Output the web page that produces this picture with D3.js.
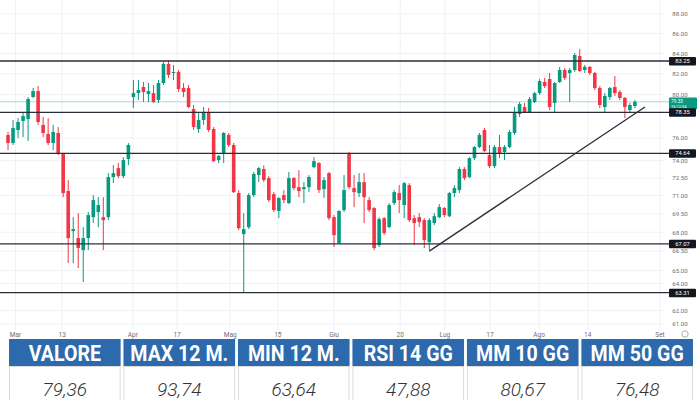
<!DOCTYPE html>
<html><head><meta charset="utf-8">
<script src="https://cdn.jsdelivr.net/npm/d3@7"></script>
<style>html,body{margin:0;padding:0;background:#fff;}svg{display:block;}</style>
</head><body><svg id="c" width="700" height="400"></svg>
<script>
const opens  = [76.28,75.56,76.73,77.55,77.73,79.78,80.34,77.19,76.37,75.56,76.46,74.58,71.39,68.09,67.53,66.58,67.53,69.22,69.64,69.22,69.22,72.58,73.35,72.66,74.14,
79.78,80.15,80.73,80.06,80.15,79.50,81.11,82.96,82.08,82.18,80.63,80.63,78.65,76.82,77.64,78.37,76.82,74.05,74.58,76.28,75.38,71.22,67.85,68.41,71.05,
72.75,73.27,72.49,71.13,69.72,71.05,70.38,72.49,71.72,71.55,71.72,73.44,73.79,71.55,72.92,69.22,67.13,69.80,74.67,71.64,71.22,72.15,70.63,69.97,66.97,
69.14,68.41,70.38,71.22,70.22,71.89,69.14,69.22,68.98,67.21,68.74,69.22,69.97,69.30,71.22,71.47,73.27,72.58,74.22,75.20,76.73,74.49,73.52,75.20,74.76,
75.20,76.46,78.19,78.84,78.37,79.31,80.15,81.21,81.50,79.22,81.21,82.37,82.08,82.37,83.74,82.37,82.67,82.08,80.63,78.84,79.78,80.73,80.25,79.69,78.56,78.93];
const highs  = [76.55,77.64,77.82,78.28,79.78,80.63,80.82,77.92,77.82,77.19,77.00,74.67,72.32,69.22,69.55,68.41,69.64,71.05,70.88,70.88,72.92,73.61,73.79,74.31,75.56,
81.40,81.40,81.21,81.11,80.92,81.40,83.15,83.25,82.86,82.37,81.11,80.92,79.03,78.28,78.84,78.75,77.00,74.49,76.55,76.46,75.56,71.47,69.55,71.22,73.01,
73.44,73.61,72.66,71.30,70.88,71.47,73.01,72.58,73.18,72.15,72.75,74.31,73.87,72.58,73.01,69.39,69.80,72.75,74.76,72.75,72.92,72.92,70.88,70.05,69.22,
69.22,70.38,71.47,71.89,72.15,72.06,69.39,69.55,69.14,69.14,69.55,70.30,70.05,71.30,71.89,73.44,73.44,74.31,75.29,76.46,76.91,75.38,75.38,76.28,75.38,
76.73,78.84,79.31,79.22,79.78,80.25,81.50,81.60,82.08,81.21,82.67,82.57,82.57,84.04,84.43,82.86,82.76,82.18,80.82,80.15,80.73,81.79,80.44,79.78,79.22,79.50];
const lows   = [74.93,75.38,76.01,76.10,75.74,79.69,77.19,76.10,75.38,74.93,74.49,70.88,65.57,65.57,65.18,64.11,66.58,68.74,68.41,66.58,68.98,72.06,72.49,72.49,73.61,
78.75,79.50,79.31,79.31,79.22,79.22,80.92,81.60,81.40,80.25,79.78,78.75,76.73,76.46,77.19,76.55,73.87,73.79,73.79,75.20,71.22,68.17,63.31,68.25,70.88,
72.15,72.15,70.47,69.64,69.14,70.38,70.30,71.47,70.88,70.38,71.30,73.35,71.22,70.80,68.98,66.82,67.05,69.64,71.55,70.05,70.88,68.74,69.64,66.58,66.82,
67.77,68.33,70.22,69.55,69.14,68.82,66.97,68.41,66.74,66.58,68.57,69.14,69.22,69.22,70.88,71.22,72.32,72.49,74.05,75.11,74.76,73.35,73.35,74.22,74.05,
75.11,76.28,77.92,78.28,78.28,79.22,79.97,80.63,78.56,78.37,81.11,81.40,79.31,82.18,82.18,82.08,81.89,80.44,78.75,78.37,79.50,79.88,79.50,77.82,78.28,78.75];
const closes = [75.56,76.91,77.46,78.01,79.59,80.34,77.46,76.46,75.56,76.55,74.67,71.22,67.53,68.25,66.74,67.53,69.39,70.63,70.22,68.98,72.58,72.92,72.66,74.05,75.38,
80.15,80.44,80.25,80.34,79.31,81.11,82.96,81.89,82.18,80.54,80.25,78.84,77.00,77.64,78.37,76.73,73.96,74.40,76.46,75.38,71.30,68.33,68.25,71.05,72.84,
73.35,72.32,70.63,69.80,70.80,70.63,72.49,71.64,71.39,71.72,72.58,73.96,71.47,72.32,69.14,67.77,69.72,71.47,71.72,71.30,72.15,70.88,69.80,66.74,69.06,
67.93,70.22,71.30,70.63,72.06,68.98,68.74,68.82,67.37,68.98,69.30,70.05,69.39,71.22,71.64,73.27,72.49,74.22,75.20,76.28,74.84,73.52,75.20,74.67,75.20,
76.55,78.28,79.12,78.37,79.59,80.15,81.30,80.82,78.84,81.11,82.37,81.60,82.37,83.84,82.27,82.67,82.08,80.63,79.03,79.88,80.63,80.15,79.69,78.84,79.03,79.33];

const priceTicks = [88,86,84,82,80,76,74,72.5,71,69.5,68,66.5,65,64,62,61];
const timeLabels = ["Mar","13","Apr","17","Mag","15","Giu","20","Lug","17","Ago","14","Set"];
const timeLabelIdx = [1.5,10.8,24.9,33.7,44.3,53.8,65,78.2,87.1,96.1,105.9,115.6,130];
const levels = [83.25,78.35,74.64,67.07,63.31];
const trendIdx = [84,127];
const trendPrice = [66.5,78.85];
const lastPrice = 79.33;
const countdown = "16:12:04";
const tableHeaders = ["VALORE","MAX 12 M.","MIN 12 M.","RSI 14 GG","MM 10 GG","MM 50 GG"];
const tableValues = ["79,36","93,74","63,64","47,88","80,67","76,48"];

const svg = d3.select("#c");
const plotW = 665, plotH = 330;
const x = d3.scaleLinear().domain([-1.6,131]).range([0,plotW]);
const y = d3.scaleLog().domain([60.58,89.47]).range([plotH,0]);
const up = "#089981", dn = "#f23645";

// grid
const g = svg.append("g");
g.selectAll("line.hg").data(priceTicks).join("line").attr("class","hg")
  .attr("x1",0).attr("x2",plotW).attr("y1",d=>y(d)).attr("y2",d=>y(d))
  .attr("stroke","#f0f1f4").attr("stroke-width",1);
g.selectAll("line.vg").data(timeLabelIdx).join("line").attr("class","vg")
  .attr("x1",d=>x(d)).attr("x2",d=>x(d)).attr("y1",0).attr("y2",plotH)
  .attr("stroke","#f0f1f4").attr("stroke-width",1);

// price line
svg.append("line").attr("x1",0).attr("x2",plotW+4).attr("y1",y(lastPrice)).attr("y2",y(lastPrice))
  .attr("stroke",up).attr("stroke-opacity",0.35).attr("stroke-width",1);

// candles
const idx = d3.range(opens.length);
const cg = svg.append("g");
cg.selectAll("line.w").data(idx).join("line").attr("class","w")
  .attr("x1",i=>x(i)).attr("x2",i=>x(i)).attr("y1",i=>y(highs[i])).attr("y2",i=>y(lows[i]))
  .attr("stroke",i=>closes[i]>=opens[i]?up:dn).attr("stroke-width",1);
const bw = 3.6;
cg.selectAll("rect.b").data(idx).join("rect").attr("class","b")
  .attr("x",i=>x(i)-bw/2).attr("width",bw)
  .attr("y",i=>y(Math.max(opens[i],closes[i])))
  .attr("height",i=>Math.max(1,Math.abs(y(opens[i])-y(closes[i]))))
  .attr("fill",i=>closes[i]>=opens[i]?up:dn);

// levels
svg.selectAll("line.lv").data(levels).join("line").attr("class","lv")
  .attr("x1",0).attr("x2",plotW+5).attr("y1",d=>y(d)).attr("y2",d=>y(d))
  .attr("stroke","#2a2e39").attr("stroke-width",1.3);

// trendline
svg.append("line").attr("x1",x(trendIdx[0])).attr("y1",y(trendPrice[0]))
  .attr("x2",x(trendIdx[1])).attr("y2",y(trendPrice[1]))
  .attr("stroke","#2a2e39").attr("stroke-width",1.3);

// right axis
const ax = svg.append("g").attr("font-family","Roboto, sans-serif").attr("font-size",6.1).attr("fill","#6a6d78");
ax.selectAll("text").data(priceTicks).join("text")
  .attr("x",680).attr("y",d=>y(d)+0.2).attr("dy","0.35em").attr("text-anchor","middle")
  .text(d=>d3.format(".2f")(d));

// level labels
const lb = svg.append("g").attr("font-family","Roboto, sans-serif").attr("font-size",5.8);
const ly = y(lastPrice);
lb.append("rect").attr("x",669).attr("y",ly-4.3).attr("width",28).attr("height",12).attr("rx",1).attr("fill",up);
lb.append("text").attr("x",671).attr("y",ly-0.5).attr("dy","0.35em").attr("fill","#fff").attr("font-size",4.8).text(d3.format(".2f")(lastPrice));
lb.append("text").attr("x",671).attr("y",ly+4.65).attr("dy","0.35em").attr("fill","#fff").attr("font-size",4.0).text(countdown);
levels.forEach(v=>{
  lb.append("rect").attr("x",669).attr("y",y(v)-4).attr("width",27).attr("height",8.5).attr("rx",1).attr("fill","#131722");
  lb.append("text").attr("x",682.5).attr("y",y(v)).attr("dy","0.35em").attr("text-anchor","middle").attr("fill","#fff").text(d3.format(".2f")(v));
});

// time axis
const ta = svg.append("g").attr("font-family","Roboto, sans-serif").attr("font-size",6.5).attr("fill","#6a6d78");
ta.selectAll("text").data(timeLabels).join("text")
  .attr("x",(d,i)=>x(timeLabelIdx[i])).attr("y",336.5).attr("text-anchor","middle").text(d=>d);
svg.append("circle").attr("cx",685).attr("cy",334).attr("r",3.2).attr("fill","none").attr("stroke","#9598a1").attr("stroke-width",0.8);

// table
const band = d3.scaleBand().domain(tableHeaders).range([9,693]).paddingInner(0.025);
const tb = svg.append("g");
tb.selectAll("rect.h").data(tableHeaders).join("rect").attr("class","h")
  .attr("x",d=>band(d)).attr("y",339).attr("width",band.bandwidth()).attr("height",27).attr("fill","#2c69ad");
tb.selectAll("rect.v").data(tableHeaders).join("rect").attr("class","v")
  .attr("x",d=>band(d)+0.5).attr("y",366.5).attr("width",band.bandwidth()-1).attr("height",40)
  .attr("fill","#fff").attr("stroke","#dcdcdc").attr("stroke-width",1);
const ht = tb.selectAll("text.h").data(tableHeaders).join("text").attr("class","h")
  .attr("x",d=>band(d)+band.bandwidth()/2).attr("y",360.5).attr("text-anchor","middle")
  .attr("font-family","Roboto, sans-serif").attr("font-weight",700).attr("font-size",22).attr("fill","#fff")
  .text(d=>d);
ht.each(function(){ const L=this.getComputedTextLength(); d3.select(this).attr("textLength",L*0.89).attr("lengthAdjust","spacingAndGlyphs"); });
tb.selectAll("text.v").data(tableValues).join("text").attr("class","v")
  .attr("x",(d,i)=>band(tableHeaders[i])+band.bandwidth()/2).attr("y",396).attr("text-anchor","middle")
  .attr("font-family","Roboto, sans-serif").attr("font-style","italic").attr("font-weight",300).attr("font-size",19).attr("fill","#333")
  .text(d=>d);
</script></body></html>
